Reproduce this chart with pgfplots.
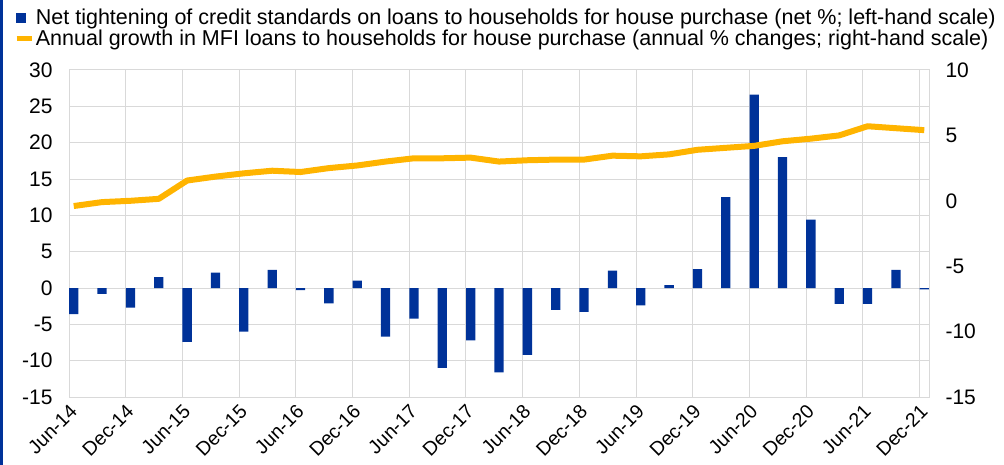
\documentclass[border=0pt]{standalone}
\usepackage{fontspec}
\setmainfont{Liberation Sans}
\usepackage{pgfplots}
\usepackage{pgfplotstable}
\pgfplotsset{compat=1.18}

\definecolor{ecbblue}{HTML}{003299}
\definecolor{ecbyellow}{HTML}{FFB400}
\definecolor{gridgray}{HTML}{D9D9D9}

% x = months since Jun-14 (mid-month), quarterly observations Jun-14 ... Dec-21
\pgfplotstableread{
x     net    growth
0.5   -3.6   -0.40
3.5   -0.8   -0.10
6.5   -2.7    0.00
9.5    1.5    0.15
12.5  -7.4    1.55
15.5   2.1    1.85
18.5  -6.0    2.10
21.5   2.5    2.30
24.5  -0.3    2.20
27.5  -2.1    2.50
30.5   1.0    2.70
33.5  -6.7    3.00
36.5  -4.2    3.25
39.5 -11.0    3.25
42.5  -7.2    3.30
45.5 -11.6    3.00
48.5  -9.2    3.10
51.5  -3.0    3.15
54.5  -3.3    3.15
57.5   2.4    3.45
60.5  -2.4    3.40
63.5   0.4    3.55
66.5   2.6    3.90
69.5  12.5    4.05
72.5  26.6    4.20
75.5  18.0    4.55
78.5   9.4    4.75
81.5  -2.2    5.00
84.5  -2.2    5.70
87.5   2.5    5.55
90.5  -0.2    5.40
}\data

\newcommand{\tickfont}{\fontsize{21bp}{24bp}\selectfont}
\newcommand{\xtickfont}{\fontsize{19.5bp}{22bp}\selectfont}
\newcommand{\legfont}{\fontsize{21.5bp}{22bp}\selectfont}

\pgfplotsset{
  ecbframe/.style={
    scale only axis,
    width=860bp, height=327bp,
    xmin=0, xmax=91,
    major tick length=0pt,
    tick label style={font=\tickfont},
    /pgf/number format/assume math mode=true,
  },
}

\begin{document}
\begin{tikzpicture}
  \begin{axis}[
      ecbframe,
      ybar, bar width=9.3bp,
      ymin=-15, ymax=30,
      ytick={-15,-10,...,30},
      xtick={0,6,...,90},
      xticklabels={Jun-14,Dec-14,Jun-15,Dec-15,Jun-16,Dec-16,Jun-17,Dec-17,
                   Jun-18,Dec-18,Jun-19,Dec-19,Jun-20,Dec-20,Jun-21,Dec-21},
      xticklabel style={font=\xtickfont, xshift=7bp, yshift=-9bp, rotate=45, anchor=east},
      yticklabel style={xshift=-13bp},
      grid=major,
      grid style={gridgray, line width=1bp},
      axis line style={gridgray, line width=1bp},
    ]
    \coordinate (O) at (rel axis cs:0,0);
    \addplot[fill=ecbblue, draw=none] table[x=x, y=net] {\data};
  \end{axis}

  \begin{axis}[
      ecbframe,
      ymin=-15, ymax=10,
      ytick={-15,-10,...,10},
      axis y line*=right,
      axis x line=none,
      axis line style={draw=none},
      yticklabel style={xshift=13bp},
      legend style={at={(0,1)}, anchor=south west, xshift=-55bp, yshift=21bp,
                    draw=none, fill=none, font=\legfont,
                    row sep=0bp, inner sep=0pt},
      legend cell align=left,
    ]
    \addlegendimage{legend image code/.code={
        \fill[ecbblue] (0bp,-4.5bp) rectangle (8.5bp,4.5bp);}}
    \addlegendentry{Net tightening of credit standards on loans to households for house purchase (net \%; left-hand scale)}
    \addplot[ecbyellow, line width=6bp, line join=round, mark=none,
             legend image code/.code={
               \draw[ecbyellow, line width=4.7bp] (0bp,0bp) -- (15bp,0bp);}]
      table[x=x, y=growth] {\data};
    \addlegendentry{Annual growth in MFI loans to households for house purchase (annual \% changes; right-hand scale)}
  \end{axis}

  \pgfresetboundingbox
  \path[use as bounding box] ([shift={(-69bp,-68bp)}]O) rectangle ([shift={(935bp,397bp)}]O);
  \fill[ecbblue] ([shift={(-69bp,-68bp)}]O) rectangle ([shift={(-66bp,397bp)}]O);
\end{tikzpicture}
\end{document}
